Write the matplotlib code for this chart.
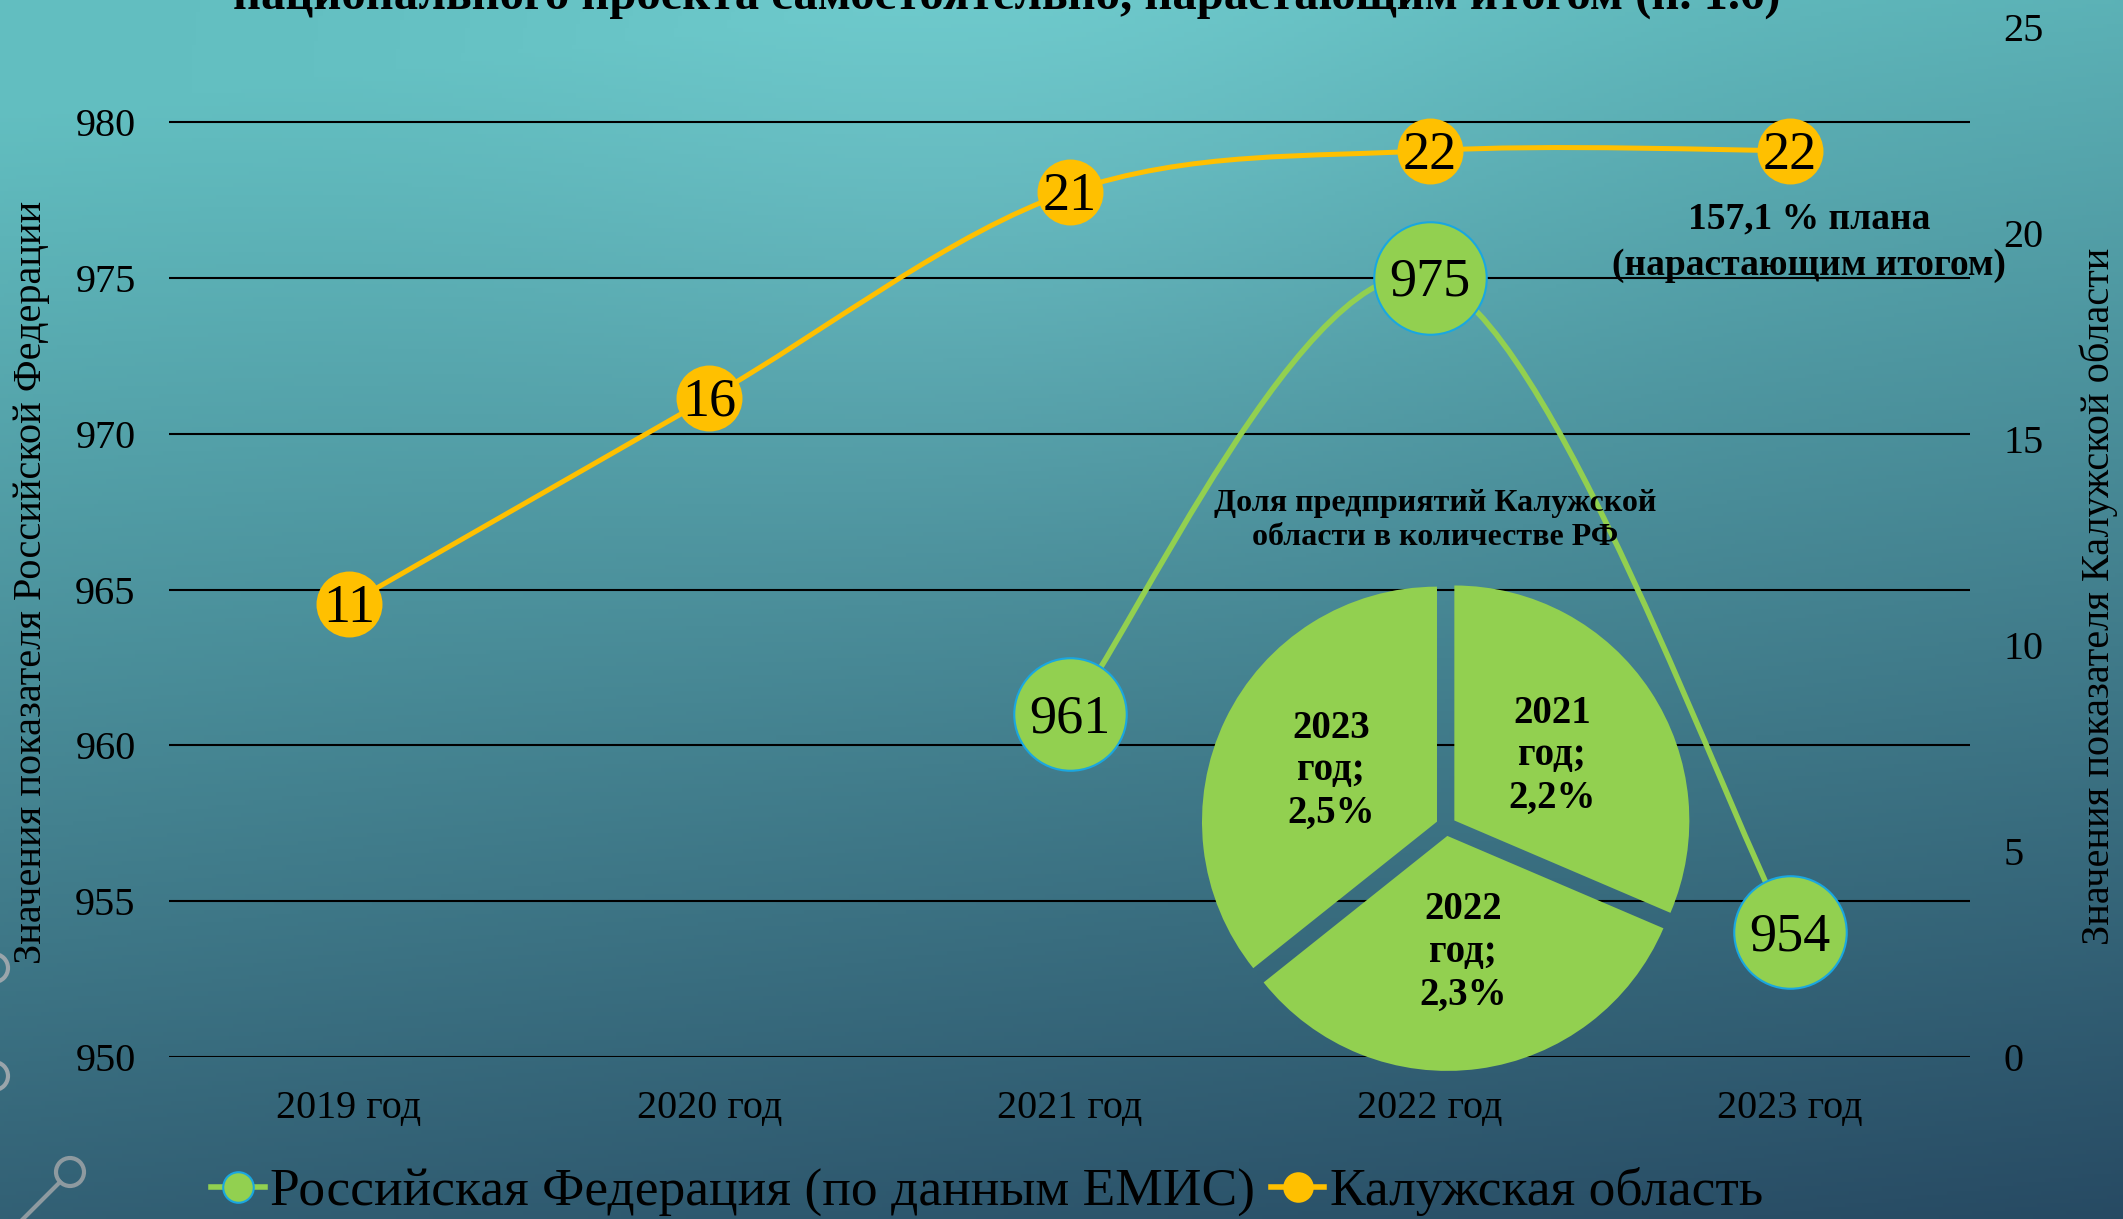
import numpy as np
import matplotlib.pyplot as plt
from matplotlib.path import Path
from matplotlib.patches import PathPatch, Ellipse
from matplotlib.lines import Line2D

# data
years = ['2019 год', '2020 год', '2021 год', '2022 год', '2023 год']
rf_pos = [2, 3, 4]
rf_values = [961, 975, 954]
kaluga_values = [11, 16, 21, 22, 22]
pie_years = ['2021', '2022', '2023']
pie_shares = [2.2, 2.3, 2.5]
left_ticks = [950, 955, 960, 965, 970, 975, 980]
right_ticks = [0, 5, 10, 15, 20, 25]

title = 'национального проекта самостоятельно, нарастающим итогом (п. 1.6)'
rf_name = 'Российская Федерация (по данным ЕМИС)'
kaluga_name = 'Калужская область'

GREEN = '#92D050'
BLUE = '#1AA7E0'
YELLOW = '#FFC000'
SERIF = 'Liberation Serif'

W, H = 2123, 1219
fig = plt.figure(figsize=(W / 100, H / 100), dpi=100)


def fx(px):
    return px / W


def fy(py):
    return 1 - py / H


# background gradient
bg = fig.add_axes([0, 0, 1, 1], zorder=-10)
yy, xx = np.mgrid[0:1:300j, 0:1:520j]
top = np.array([98, 190, 192]) / 255
bot = np.array([36, 68, 94]) / 255
t = np.clip(yy * 0.85 + xx * 0.18 - 0.08, 0, 1)[..., None]
img = top + (bot - top) * t
glow = 0.05 * np.exp(-((xx - 0.48) ** 2 / 0.06 + (yy - 0.08) ** 2 / 0.12))
img = np.clip(img + glow[..., None], 0, 1)
bg.imshow(img, aspect='auto', extent=[0, 1, 0, 1], origin='upper')
bg.set_axis_off()

# small grey decorations on the left edge
for cy in [968, 1076]:
    fig.add_artist(Ellipse((fx(-6), fy(cy)), 28 / W, 28 / H, fill=False,
                           ec='#9aa5ab', lw=3, transform=fig.transFigure))
fig.add_artist(Ellipse((fx(70), fy(1172)), 28 / W, 28 / H, fill=False,
                       ec='#8e9aa0', lw=3, transform=fig.transFigure))
fig.add_artist(Line2D([fx(60), fx(20)], [fy(1182), fy(1222)], color='#8e9aa0',
                      lw=3, transform=fig.transFigure))


def smooth_path(xs, ys):
    pts = np.column_stack([xs, ys]).astype(float)
    n = len(pts)
    verts = [pts[0]]
    codes = [Path.MOVETO]
    for i in range(n - 1):
        p0 = pts[max(i - 1, 0)]
        p1 = pts[i]
        p2 = pts[i + 1]
        p3 = pts[min(i + 2, n - 1)]
        verts += [p1 + (p2 - p0) / 6, p2 - (p3 - p1) / 6, p2]
        codes += [Path.CURVE4] * 3
    return Path(verts, codes)


# main axes
ax = fig.add_axes([fx(169), fy(1057), (1970 - 169) / W, (1057 - 27) / H])
ax.patch.set_alpha(0)
ax.set_xlim(-0.5, 4.5)
ax.set_ylim(950, 950 + 30 * (1057 - 27) / (1057 - 122))
ax.set_yticks(left_ticks)
ax.set_xticks(range(len(years)))
ax.set_xticklabels(years)
ax.grid(axis='y', color='black', lw=1.5)
ax.set_axisbelow(True)
ax.tick_params(axis='y', length=0, pad=24, labelsize=29)
ax.tick_params(axis='x', length=0, pad=24, labelsize=29)
for s in ax.spines.values():
    s.set_visible(False)

ax2 = ax.twinx()
ax2.set_ylim(0, 25)
ax2.set_yticks(right_ticks)
ax2.tick_params(axis='y', length=0, pad=24, labelsize=29)
for s in ax2.spines.values():
    s.set_visible(False)

for lab in ax.get_xticklabels() + ax.get_yticklabels() + ax2.get_yticklabels():
    lab.set_fontfamily(SERIF)

# Russian Federation series (left axis)
ax.add_patch(PathPatch(smooth_path(rf_pos, rf_values), fill=False, ec=GREEN,
                       lw=4, capstyle='round', zorder=3))
ax.plot(rf_pos, rf_values, 'o', ms=81, mfc=GREEN, mec=BLUE, mew=1.5, zorder=4)
for x, v in zip(rf_pos, rf_values):
    ax.annotate(str(v), (x, v), xytext=(0, -13), textcoords='offset points',
                ha='center', va='baseline', fontsize=39, family=SERIF, zorder=5)

# Kaluga region series (right axis)
kx = list(range(len(kaluga_values)))
ax2.add_patch(PathPatch(smooth_path(kx, kaluga_values), fill=False, ec=YELLOW,
                        lw=3.6, capstyle='round', zorder=3))
ax2.plot(kx, kaluga_values, 'o', ms=47.5, mfc=YELLOW, mec='none', zorder=4)
for x, v in zip(kx, kaluga_values):
    ax2.annotate(str(v), (x, v), xytext=(0, -13), textcoords='offset points',
                 ha='center', va='baseline', fontsize=39, family=SERIF, zorder=5)

# axis titles
fig.text(fx(32), fy(582), 'Значения показателя Российской Федерации', rotation=90,
         ha='center', va='center', fontsize=29, family=SERIF)
fig.text(fx(2099), fy(596), 'Значения показателя Калужской области', rotation=90,
         ha='center', va='center', fontsize=29, family=SERIF)

# cut title at the top
fig.text(fx(1007), fy(10), title, ha='center', va='baseline', fontsize=35,
         fontweight='bold', family=SERIF)

# plan note
fig.text(fx(1809), fy(228), '157,1 % плана', ha='center', va='baseline',
         fontsize=27, fontweight='bold', family=SERIF)
fig.text(fx(1809), fy(275), '(нарастающим итогом)', ha='center', va='baseline',
         fontsize=27, fontweight='bold', family=SERIF)

# inset pie
pax = fig.add_axes([fx(1446 - 280), fy(826 + 280), 560 / W, 560 / H])
pie_labels = [f'{y}\nгод;\n{str(v).replace(".", ",")}%' for y, v in zip(pie_years, pie_shares)]
pax.pie(pie_shares, radius=235 / 280, startangle=90, counterclock=False,
        colors=[GREEN] * len(pie_shares), explode=[10 / 280] * len(pie_shares),
        labels=pie_labels, labeldistance=0.5,
        textprops=dict(fontsize=28, fontweight='bold', family=SERIF,
                       ha='center', va='center', linespacing=1.2))
pax.set_xlim(-1, 1)
pax.set_ylim(-1, 1)
pax.set_aspect('equal')
pax.set_axis_off()
fig.text(fx(1435), fy(511), 'Доля предприятий Калужской', ha='center', va='baseline',
         fontsize=23, fontweight='bold', family=SERIF)
fig.text(fx(1435), fy(545), 'области в количестве РФ', ha='center', va='baseline',
         fontsize=23, fontweight='bold', family=SERIF)

# legend
handles = [
    Line2D([], [], color=GREEN, lw=4, marker='o', ms=22, mfc=GREEN, mec=BLUE, mew=1.5),
    Line2D([], [], color=YELLOW, lw=4, marker='o', ms=22, mfc=YELLOW, mec='none'),
]
fig.legend(handles, [rf_name, kaluga_name], ncol=2, loc='center',
           bbox_to_anchor=(fx(987), fy(1192)), frameon=False,
           prop=dict(family=SERIF, size=38.5), handlelength=1.0,
           handletextpad=0.1, columnspacing=0.3, borderpad=0)

fig.savefig('out.png', dpi=100)
